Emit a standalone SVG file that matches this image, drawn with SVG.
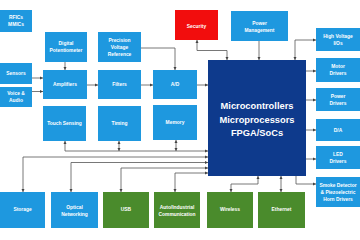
<svg xmlns="http://www.w3.org/2000/svg" width="360" height="240" viewBox="0 0 360 240">
<style>
.b{fill:#1e98df}
.r{fill:#f20d0d}
.g{fill:#4a8b2c}
.m{fill:#0e3a8c}
.t{font-family:"Liberation Sans",Arial,sans-serif;font-size:4.9px;font-weight:bold;fill:#ffffff;text-anchor:middle}
.mt{font-family:"Liberation Sans",Arial,sans-serif;font-size:9.3px;font-weight:bold;fill:#ffffff;text-anchor:middle}
.c{fill:none;stroke:#555555;stroke-width:0.8}
.e{marker-end:url(#ah)}
.s{marker-start:url(#ah)}
</style>
<defs>
<marker id="ah" viewBox="0 0 4 4" refX="4" refY="2" markerWidth="3.2" markerHeight="3.2" markerUnits="userSpaceOnUse" orient="auto-start-reverse">
<path d="M0,0 L4,2 L0,4 z" fill="#444444"/>
</marker>
</defs>
<rect width="360" height="240" fill="#ffffff"/>
<g id="connectors">
<path class="c e" d="M65,62 V70"/>
<path class="c e" d="M32,78 H43"/>
<path class="c e" d="M32,91.5 H43"/>
<path class="c e" d="M87,85 H98"/>
<path class="c e" d="M141,85 H153"/>
<path class="c e" d="M141,48 H175 V70"/>
<path class="c e" d="M197,85 H208"/>
<path class="c s e" d="M197,40 V50.5 H227 V60"/>
<path class="c e" d="M259,41 V60"/>
<path class="c s e" d="M295,60 V40 H316"/>
<path class="c e" d="M306,71 H316"/>
<path class="c e" d="M306,100 H316"/>
<path class="c e" d="M306,130 H316"/>
<path class="c e" d="M306,159 H316"/>
<path class="c e" d="M296,176 V184 H316"/>
<path class="c s e" d="M258,176 V184 H231 V192"/>
<path class="c s e" d="M281,176 V192"/>
<path class="c s e" d="M65,141 V151 H208"/>
<path class="c s e" d="M119,141 V151"/>
<path class="c s e" d="M176,140 V151"/>
<path class="c s e" d="M208,157 H23 V192"/>
<path class="c s e" d="M208,162.5 H71 V192"/>
<path class="c s e" d="M208,168 H121 V192"/>
<path class="c s e" d="M208,173 H175 V192"/>
</g>
<g id="rfics"><rect class="b" x="0" y="10" width="32" height="22"/><text class="t" x="16" y="19.3">RFICs</text><text class="t" x="16" y="26.3">MMICs</text></g>
<g id="digital-potentiometer"><rect class="b" x="45" y="32" width="42" height="30"/><text class="t" x="66" y="45.3">Digital</text><text class="t" x="66" y="52.3">Potentiometer</text></g>
<g id="precision-voltage-reference"><rect class="b" x="98" y="32" width="43" height="30"/><text class="t" x="119.5" y="41.8">Precision</text><text class="t" x="119.5" y="48.8">Voltage</text><text class="t" x="119.5" y="55.8">Reference</text></g>
<g id="sensors"><rect class="b" x="0" y="63" width="32" height="21"/><text class="t" x="16" y="75.3">Sensors</text></g>
<g id="voice-audio"><rect class="b" x="0" y="87" width="32" height="20"/><text class="t" x="16" y="95.3">Voice &amp;</text><text class="t" x="16" y="102.3">Audio</text></g>
<g id="amplifiers"><rect class="b" x="43" y="70" width="44" height="29"/><text class="t" x="65" y="86.3">Amplifiers</text></g>
<g id="filters"><rect class="b" x="98" y="70" width="43" height="29"/><text class="t" x="119.5" y="86.3">Filters</text></g>
<g id="ad"><rect class="b" x="153" y="70" width="44" height="29"/><text class="t" x="175" y="86.3">A/D</text></g>
<g id="touch-sensing"><rect class="b" x="43" y="106" width="43" height="35"/><text class="t" x="64.5" y="125.3">Touch Sensing</text></g>
<g id="timing"><rect class="b" x="98" y="106" width="43" height="35"/><text class="t" x="119.5" y="125.3">Timing</text></g>
<g id="memory"><rect class="b" x="153" y="105" width="44" height="35"/><text class="t" x="175" y="124.3">Memory</text></g>
<g id="security"><rect class="r" x="175" y="10" width="43" height="30"/><text class="t" x="196.5" y="27.5">Security</text></g>
<g id="power-management"><rect class="b" x="231" y="11" width="57" height="30"/><text class="t" x="259.5" y="24.5">Power</text><text class="t" x="259.5" y="31.5">Management</text></g>
<g id="main"><rect class="m" x="208" y="60" width="98" height="116"/><text class="mt" x="257" y="109.3">Microcontrollers</text><text class="mt" x="257" y="122.6">Microprocessors</text><text class="mt" x="257" y="135.9">FPGA/SoCs</text></g>
<g id="high-voltage-ios"><rect class="b" x="316" y="28" width="44" height="23"/><text class="t" x="338" y="37.8">High Voltage</text><text class="t" x="338" y="44.8">I/Os</text></g>
<g id="motor-drivers"><rect class="b" x="316" y="58" width="44" height="24"/><text class="t" x="338" y="68.3">Motor</text><text class="t" x="338" y="75.3">Drivers</text></g>
<g id="power-drivers"><rect class="b" x="316" y="88" width="44" height="23"/><text class="t" x="338" y="97.8">Power</text><text class="t" x="338" y="104.8">Drivers</text></g>
<g id="da"><rect class="b" x="316" y="119" width="44" height="22"/><text class="t" x="338" y="131.8">D/A</text></g>
<g id="led-drivers"><rect class="b" x="316" y="146" width="44" height="23"/><text class="t" x="338" y="155.8">LED</text><text class="t" x="338" y="162.8">Drivers</text></g>
<g id="smoke-detector"><rect class="b" x="316" y="177" width="44" height="30"/><text class="t" x="338" y="186.8">Smoke Detector</text><text class="t" x="338" y="193.8">&amp; Piezoelectric</text><text class="t" x="338" y="200.8">Horn Drivers</text></g>
<g id="storage"><rect class="b" x="0" y="192" width="45" height="36"/><text class="t" x="22.5" y="210.8">Storage</text></g>
<g id="optical-networking"><rect class="b" x="51" y="192" width="47" height="36"/><text class="t" x="74.5" y="208.8">Optical</text><text class="t" x="74.5" y="215.8">Networking</text></g>
<g id="usb"><rect class="g" x="103" y="192" width="46" height="36"/><text class="t" x="126" y="210.8">USB</text></g>
<g id="auto-industrial"><rect class="g" x="154" y="192" width="46" height="36"/><text class="t" x="177" y="208.8">Auto/Industrial</text><text class="t" x="177" y="215.8">Communication</text></g>
<g id="wireless"><rect class="g" x="207" y="192" width="46" height="36"/><text class="t" x="230" y="210.8">Wireless</text></g>
<g id="ethernet"><rect class="g" x="258" y="192" width="47" height="36"/><text class="t" x="281.5" y="210.8">Ethernet</text></g>
</svg>
